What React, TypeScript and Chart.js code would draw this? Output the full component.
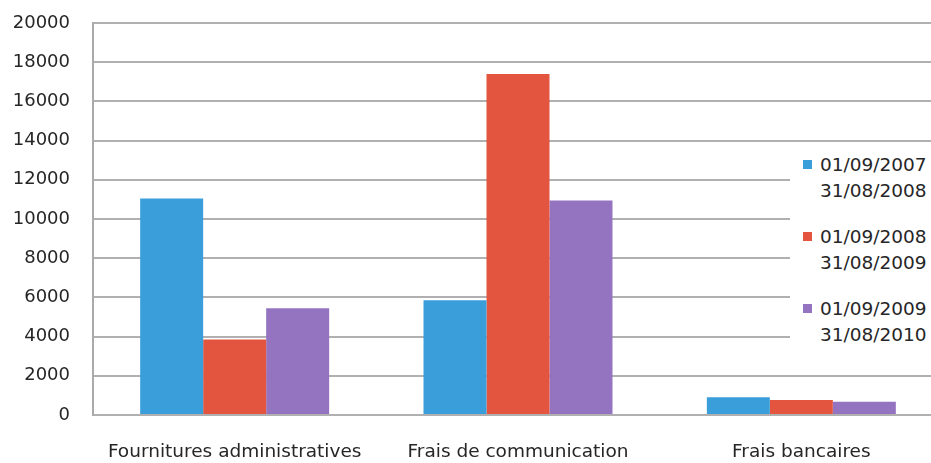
import React, { useEffect, useRef } from 'react';
import { Chart, registerables } from 'chart.js';

Chart.register(...registerables);

// Expense categories and the three accounting periods
const categories = ['Fournitures administratives', 'Frais de communication', 'Frais bancaires'];
const periodLabels = [
  ['01/09/2007', '31/08/2008'],
  ['01/09/2008', '31/08/2009'],
  ['01/09/2009', '31/08/2010'],
];
const values2007 = [11050, 5850, 900];
const values2008 = [3850, 17400, 760];
const values2009 = [5450, 10950, 670];
const yTicks = [0, 2000, 4000, 6000, 8000, 10000, 12000, 14000, 16000, 18000, 20000];
const seriesColors = ['#3a9edb', '#e3553f', '#9474c0'];

const FONT = "'DejaVu Sans', sans-serif";
const TEXT_COLOR = '#262626';

export default function App() {
  const canvasRef = useRef<HTMLCanvasElement | null>(null);

  useEffect(() => {
    document.body.style.margin = '0';
    const canvas = canvasRef.current;
    if (!canvas) return;

    const seriesValues = [values2007, values2008, values2009];
    const chart = new Chart(canvas, {
      type: 'bar',
      data: {
        labels: categories,
        datasets: seriesValues.map((vals, i) => ({
          label: periodLabels[i].join(' - '),
          data: vals,
          backgroundColor: seriesColors[i],
          borderWidth: 0,
          categoryPercentage: 0.667,
          barPercentage: 1,
        })),
      },
      options: {
        responsive: false,
        animation: false,
        devicePixelRatio: 1,
        layout: { padding: { top: 23, right: 17, left: 0, bottom: 0 } },
        plugins: {
          legend: { display: false },
          tooltip: { enabled: false },
        },
        scales: {
          x: {
            grid: { display: false, drawTicks: false },
            border: { display: false },
            ticks: {
              color: TEXT_COLOR,
              font: { family: FONT, size: 18.5 },
              padding: 26,
              maxRotation: 0,
              autoSkip: false,
            },
            afterFit: (scale: any) => {
              scale.height = 48;
            },
          },
          y: {
            min: yTicks[0],
            max: yTicks[yTicks.length - 1],
            afterBuildTicks: (scale: any) => {
              scale.ticks = yTicks.map((v) => ({ value: v }));
            },
            grid: { color: '#b0b0b0', lineWidth: 2, drawTicks: false },
            border: { display: true, color: '#aaaaaa', width: 2 },
            ticks: {
              color: TEXT_COLOR,
              font: { family: FONT, size: 18 },
              padding: 23,
              callback: (v: any) => String(v),
            },
            afterFit: (scale: any) => {
              scale.width = 93;
              scale.paddingTop = 0;
              scale.paddingBottom = 0;
            },
          },
        },
      },
    });
    return () => chart.destroy();
  }, []);

  return (
    <div style={{ position: 'relative', width: 931, height: 463, overflow: 'hidden', background: '#fff' }}>
      <canvas ref={canvasRef} width={960} height={463} style={{ display: 'block' }} />
      <div
        style={{
          position: 'absolute',
          left: 790,
          top: 143,
          width: 200,
          height: 217,
          background: '#fff',
          fontFamily: FONT,
          fontSize: 18.5,
          color: TEXT_COLOR,
        }}
      >
        {periodLabels.map((lines, i) => (
          <div key={i} style={{ position: 'absolute', left: 0, top: 9 + i * 72, height: 72, width: 200 }}>
            <div
              style={{
                position: 'absolute',
                left: 13,
                top: 8,
                width: 9,
                height: 9,
                background: seriesColors[i],
              }}
            />
            <div style={{ position: 'absolute', left: 30, top: 0, lineHeight: '26px', whiteSpace: 'nowrap' }}>
              {lines.map((t, j) => (
                <div key={j}>{t}</div>
              ))}
            </div>
          </div>
        ))}
      </div>
    </div>
  );
}
